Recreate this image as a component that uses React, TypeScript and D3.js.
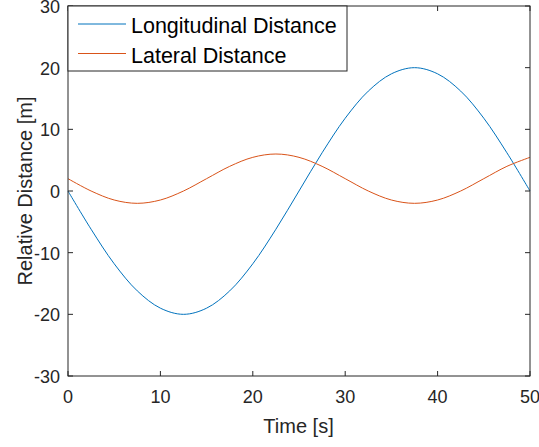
import { useEffect, useRef } from "react";
import * as d3 from "d3";

// time samples [s]
const time = [0, 2.5, 5, 7.5, 10, 12.5, 15, 17.5, 20, 22.5, 25, 27.5, 30, 32.5, 35, 37.5, 40, 42.5, 45, 47.5, 50];
// values [m]
const longitudinal = [0, -6.2, -11.8, -16.2, -19.0, -20, -19.0, -16.2, -11.8, -6.2, 0, 6.2, 11.8, 16.2, 19.0, 20, 19.0, 16.2, 11.8, 6.2, 0];
const lateral = [2, 0, -1.46, -2, -1.46, 0, 2, 4, 5.46, 6, 5.46, 4, 2, 0, -1.46, -2, -1.46, 0, 2, 4, 5.46];
const xTicks = [0, 10, 20, 30, 40, 50];
const yTicks = [-30, -20, -10, 0, 10, 20, 30];
const seriesNames = ["Longitudinal Distance", "Lateral Distance"];
const colors = ["#0072BD", "#D95319"];

const App = () => {
    const ref = useRef<SVGSVGElement>(null);
    const W = 539, H = 447;
    const m = {left: 68, right: 530, top: 6, bottom: 376};

    useEffect(() => {
        const svg = d3.select(ref.current);
        svg.selectAll("*").remove();
        const font = "Liberation Sans, Arial, sans-serif";
        const x = d3.scaleLinear().domain([0, 50]).range([m.left, m.right]);
        const y = d3.scaleLinear().domain([-30, 30]).range([m.bottom, m.top]);
        const axisColor = "#262626";

        svg.append("rect").attr("width", W).attr("height", H).attr("fill", "#fff");

        const line = d3.line<number>().x((_, i) => x(time[i])).curve(d3.curveCatmullRom);
        [longitudinal, lateral].forEach((vals, k) => {
            svg.append("path")
                .attr("d", line.y(d => y(d))(vals))
                .attr("fill", "none").attr("stroke", colors[k]).attr("stroke-width", 1);
        });

        // box + ticks
        const g = svg.append("g").attr("stroke", axisColor).attr("stroke-width", 1).attr("fill", "none");
        g.append("rect").attr("x", m.left).attr("y", m.top).attr("width", m.right - m.left).attr("height", m.bottom - m.top);
        xTicks.forEach(t => {
            g.append("line").attr("x1", x(t)).attr("x2", x(t)).attr("y1", m.bottom).attr("y2", m.bottom - 5);
            g.append("line").attr("x1", x(t)).attr("x2", x(t)).attr("y1", m.top).attr("y2", m.top + 5);
        });
        yTicks.forEach(t => {
            g.append("line").attr("x1", m.left).attr("x2", m.left + 5).attr("y1", y(t)).attr("y2", y(t));
            g.append("line").attr("x1", m.right).attr("x2", m.right - 5).attr("y1", y(t)).attr("y2", y(t));
        });

        const txt = svg.append("g").attr("font-family", font).attr("fill", axisColor);
        xTicks.forEach(t => {
            txt.append("text").attr("x", x(t)).attr("y", 403).attr("text-anchor", "middle")
                .attr("font-size", 18).text(t);
        });
        yTicks.forEach(t => {
            txt.append("text").attr("x", 60).attr("y", y(t) + 7).attr("text-anchor", "end")
                .attr("font-size", 18).text(t);
        });
        txt.append("text").attr("x", 298.5).attr("y", 433).attr("text-anchor", "middle")
            .attr("font-size", 20).text("Time [s]");
        txt.append("text").attr("transform", `translate(32,${(m.top + m.bottom) / 2}) rotate(-90)`)
            .attr("text-anchor", "middle").attr("font-size", 20).text("Relative Distance [m]");

        // legend
        const lg = svg.append("g");
        lg.append("rect").attr("x", m.left).attr("y", m.top).attr("width", 279).attr("height", 65)
            .attr("fill", "#fff").attr("stroke", axisColor).attr("stroke-width", 1);
        seriesNames.forEach((name, i) => {
            const cy = 24 + i * 29.5;
            lg.append("line").attr("x1", 78).attr("x2", 126).attr("y1", cy).attr("y2", cy)
                .attr("stroke", colors[i]).attr("stroke-width", 1);
            lg.append("text").attr("x", 131).attr("y", cy + 9).attr("font-family", font)
                .attr("font-size", 21.5).attr("fill", "#000").text(name);
        });
    }, []);

    return <svg ref={ref} width={W} height={H} style={{position: "absolute", left: 0, top: 0}}/>;
};

export default App;
